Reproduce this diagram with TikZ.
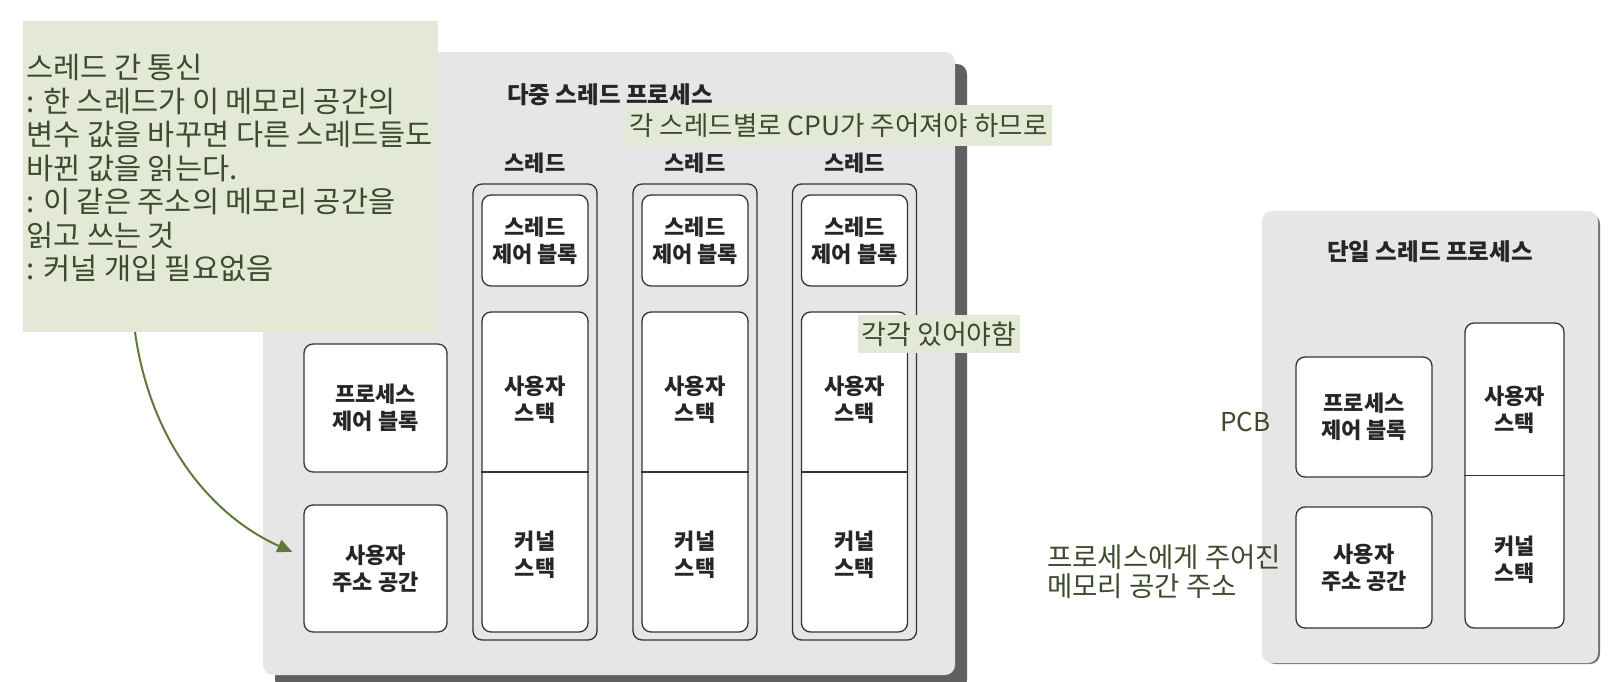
\documentclass[tikz,border=0pt]{standalone}
\usepackage{fontspec}
\setmainfont{Noto Sans CJK KR}
\usetikzlibrary{arrows.meta}
\definecolor{notegreen}{HTML}{E3E9D6}
\definecolor{notetext}{HTML}{3D4A2C}
\definecolor{arrowgreen}{HTML}{5E7A3A}
\definecolor{procgray}{HTML}{E6E6E6}
\definecolor{shadowgray}{HTML}{606060}
\begin{document}
\begin{tikzpicture}
  [x=1pt,y=-1pt,
   every node/.style={font=\bfseries\fontsize{22}{27}\selectfont,align=center,text=black!85},
   head/.style={font=\bfseries\fontsize{23.5}{27}\selectfont},
   proc/.style={fill=procgray,rounded corners=10pt},
   col/.style={draw=black!80,line width=1.3pt,rounded corners=9pt,minimum width=124pt,minimum height=456pt},
   box/.style={draw=black!80,line width=1.3pt,rounded corners=9pt,fill=white,minimum width=106pt},
   tag/.style={fill=notegreen,text=notetext,font=\fontsize{26.5}{30}\selectfont,inner sep=0pt},
   memo/.style={text=notetext,font=\fontsize{27.5}{29}\selectfont,align=left,inner sep=2pt}]

  \useasboundingbox (0,0) rectangle (1618,682);

  % multi-thread process
  \fill[shadowgray,rounded corners=10pt] (275,64) rectangle (967,690);
  \node[proc,minimum width=692pt,minimum height=623pt] (multi) at (609,363.5) {};
  \node[head] (mtitle) at (610,95) {다중 스레드 프로세스};

  \foreach \i/\x in {1/535,2/695,3/854.5} {
    \node (th\i) at (\x,163) {스레드};
    \node[col] (col\i) at (\x,412) {};
    \node[box,minimum height=91pt] (tcb\i) at (\x,240.5) {스레드\\제어 블록};
    \node[box,minimum height=320pt] (stk\i) at (\x,472) {};
    \draw[line width=1.3pt,black!80] (stk\i.west) -- (stk\i.east);
    \node (us\i) at (\x,400) {사용자\\스택};
    \node (ks\i) at (\x,555) {커널\\스택};
  }

  \node[box,minimum width=143pt,minimum height=128pt] (pcb) at (375.5,408) {프로세스\\제어 블록};
  \node[box,minimum width=143pt,minimum height=127pt] (uas) at (375.5,568.5) {사용자\\주소 공간};

  % single-thread process
  \fill[black!55,rounded corners=10pt] (1265,214) rectangle (1600,664);
  \node[proc,minimum width=336pt,minimum height=452pt] (single) at (1430,437) {};
  \node[head] (stitle) at (1430,252) {단일 스레드 프로세스};
  \node[box,minimum width=136pt,minimum height=120pt] (spcb) at (1364,417) {프로세스\\제어 블록};
  \node[box,minimum width=136pt,minimum height=121pt] (suas) at (1364,567.5) {사용자\\주소 공간};
  \node[box,minimum width=99pt,minimum height=305pt] (sstk) at (1514.5,475.5) {};
  \draw[line width=1.3pt,black!80] (sstk.west) -- (sstk.east);
  \node (sus) at (1514.5,410) {사용자\\스택};
  \node (sks) at (1514.5,560) {커널\\스택};

  % notes
  \node[tag,minimum width=415pt,minimum height=311pt] (note) at (230.5,176.5) {};
  \node[memo,anchor=north west,font=\fontsize{29.5}{33.5}\selectfont] (notetxt) at (24,52)
    {스레드 간 통신\\: 한 스레드가 이 메모리 공간의\\변수 값을 바꾸면 다른 스레드들도\\바뀐 값을 읽는다.\\: 이 같은 주소의 메모리 공간을\\읽고 쓰는 것\\: 커널 개입 필요없음};
  \coordinate (arrs) at (135,332);
  \draw[arrowgreen,line width=2pt,-{Triangle[length=15pt,width=13pt]}]
    (arrs) .. controls (150,440) and (210,515) .. ([xshift=-11pt,yshift=16.5pt]uas.west);

  \node[tag,minimum width=427pt,minimum height=41pt] (cpu) at (838.5,125.5) {각 스레드별로 CPU가 주어져야 하므로};
  \node[tag,minimum width=162pt,minimum height=38pt,font=\fontsize{27}{30}\selectfont] (each) at (939,334) {각각 있어야함};
  \node[memo,font=\fontsize{26}{28}\selectfont] (pcblab) at (1245.5,422) {PCB};
  \node[memo,anchor=west] (memlab) at (1045,572) {프로세스에게 주어진\\메모리 공간 주소};
\end{tikzpicture}
\end{document}
